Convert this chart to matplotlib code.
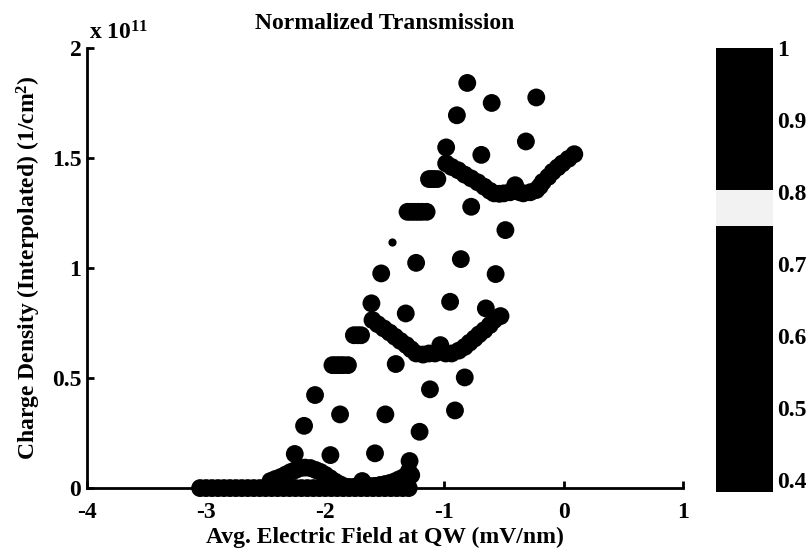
import numpy as np
import matplotlib
matplotlib.use("Agg")
import matplotlib.pyplot as plt
from matplotlib.colors import ListedColormap

plt.rcParams['font.family'] = ['Liberation Serif', 'DejaVu Serif']
plt.rcParams['font.weight'] = 'bold'
plt.rcParams['axes.unicode_minus'] = False
plt.rcParams['mathtext.fontset'] = 'custom'
plt.rcParams['mathtext.rm'] = 'Liberation Serif:bold'
plt.rcParams['mathtext.it'] = 'Liberation Serif:bold'
plt.rcParams['mathtext.bf'] = 'Liberation Serif:bold'

# charge density values are in units of 1e11 1/cm^2
# row of points sitting on zero
row_x = [-3.05, -3.00, -2.95, -2.90, -2.85, -2.80, -2.75, -2.70, -2.65, -2.60, -2.55,
         -2.50, -2.45, -2.40, -2.35, -2.30, -2.25, -2.20, -2.15, -2.10, -2.05,
         -2.00, -1.95, -1.90, -1.85, -1.80, -1.75, -1.70, -1.65, -1.60, -1.55,
         -1.50, -1.45, -1.40, -1.35, -1.30]
row_y = [0.0] * len(row_x)
row_t = [0.55] * len(row_x)

# lowest bump + first U
u1_x = [-2.46, -2.42, -2.375, -2.33, -2.29, -2.25, -2.21, -2.17, -2.125, -2.08,
        -2.04, -2.00, -1.96, -1.92, -1.88, -1.84, -1.80, -1.76, -1.72, -1.69,
        -1.65, -1.62, -1.58, -1.54, -1.50, -1.46, -1.42, -1.38, -1.34, -1.30]
u1_y = [0.032, 0.041, 0.050, 0.062, 0.073, 0.082, 0.091, 0.093, 0.091, 0.082,
        0.073, 0.060, 0.045, 0.030, 0.018, 0.008, 0.005, 0.005, 0.012, 0.032,
        0.012, 0.009, 0.010, 0.014, 0.018, 0.023, 0.030, 0.040, 0.050, 0.075]
u1_t = [0.6] * len(u1_x)

# middle U
u2_x = [-1.604, -1.56, -1.510, -1.46, -1.415, -1.37, -1.320, -1.28, -1.238, -1.18,
        -1.130, -1.08, -1.035, -0.99, -0.940, -0.88, -0.830, -0.79, -0.748, -0.71,
        -0.666, -0.62, -0.584, -0.530]
u2_y = [0.764, 0.745, 0.726, 0.707, 0.688, 0.669, 0.650, 0.631, 0.612, 0.607,
        0.612, 0.612, 0.650, 0.612, 0.612, 0.625, 0.642, 0.661, 0.680, 0.699,
        0.718, 0.741, 0.764, 0.782]
u2_t = [0.65] * len(u2_x)

# upper U
u3_x = [-0.986, -0.94, -0.885, -0.83, -0.776, -0.72, -0.666, -0.62, -0.584, -0.54,
        -0.502, -0.45, -0.407, -0.37, -0.339, -0.28, -0.230, -0.20, -0.175, -0.13,
        -0.093, -0.05, -0.011, 0.04, 0.089]
u3_y = [1.476, 1.460, 1.445, 1.425, 1.408, 1.390, 1.370, 1.352, 1.340, 1.338,
        1.340, 1.345, 1.377, 1.345, 1.340, 1.345, 1.355, 1.372, 1.392, 1.415,
        1.438, 1.458, 1.476, 1.497, 1.518]
u3_t = [0.7] * len(u3_x)

# horizontal clusters
bar_x = [-1.13, -1.11, -1.09, -1.06,
         -1.31, -1.28, -1.25, -1.22, -1.19, -1.15,
         -1.76, -1.73, -1.70,
         -1.94, -1.91, -1.88, -1.85, -1.81]
bar_y = [1.405, 1.405, 1.405, 1.405,
         1.256, 1.256, 1.256, 1.256, 1.256, 1.256,
         0.695, 0.695, 0.695,
         0.559, 0.559, 0.559, 0.559, 0.559]
bar_t = [0.9] * len(bar_x)

# isolated points
pts_x = [-0.809, -0.604, -0.230, -0.896, -0.317, -0.986, -0.691,
         -0.776, -0.489, -1.238, -0.863, -1.531, -0.571, -0.953, -1.613, -1.325, -0.653,
         -1.409, -1.122, -0.830, -2.086, -0.912, -1.876, -1.496, -2.178, -1.209,
         -2.256, -1.957, -1.583, -1.293, -1.279]
pts_y = [1.842, 1.751, 1.776, 1.695, 1.576, 1.549, 1.515,
         1.279, 1.173, 1.024, 1.041, 0.976, 0.973, 0.847, 0.840, 0.794, 0.817,
         0.564, 0.449, 0.503, 0.423, 0.353, 0.335, 0.335, 0.283, 0.256,
         0.155, 0.150, 0.158, 0.123, 0.059]
pts_t = [0.95] * len(pts_x)

small_x = [-1.441]
small_y = [1.117]
small_t = [0.5]

# colormap: black except a pale band near 0.78
cm_colors = ['black'] * 100
for i in range(60, 68):
    cm_colors[i] = '#f2f2f2'
cmap = ListedColormap(cm_colors)
vmin, vmax = 0.383, 1.0

fig = plt.figure(figsize=(8.12, 5.54), dpi=100)
ax = fig.add_axes([0.107, 0.119, 0.734, 0.794])

big_x = row_x + u1_x + u2_x + u3_x + bar_x + pts_x
big_y = row_y + u1_y + u2_y + u3_y + bar_y + pts_y
big_t = row_t + u1_t + u2_t + u3_t + bar_t + pts_t
sc = ax.scatter(big_x, big_y, c=big_t, cmap=cmap, vmin=vmin, vmax=vmax,
                s=165, linewidths=0, clip_on=False)
ax.scatter(small_x, small_y, c=small_t, cmap=cmap, vmin=vmin, vmax=vmax,
           s=35, linewidths=0, clip_on=False)

ax.set_xlim(-4, 1)
ax.set_ylim(0, 2)
ax.set_xticks([-4, -3, -2, -1, 0, 1])
ax.set_yticks([0, 0.5, 1, 1.5, 2])
ax.set_xticklabels(['-4', '-3', '-2', '-1', '0', '1'])
ax.set_yticklabels(['0', '0.5', '1', '1.5', '2'])
ax.spines['top'].set_visible(False)
ax.spines['right'].set_visible(False)
ax.spines['left'].set_linewidth(2)
ax.spines['bottom'].set_linewidth(2)
ax.tick_params(direction='in', length=5, width=2, labelsize=17)
ax.tick_params(axis='x', pad=10)
ax.tick_params(axis='y', pad=4)

ax.set_title('Normalized Transmission', fontsize=17, fontweight='bold', pad=14)
ax.set_xlabel('Avg. Electric Field at QW (mV/nm)', fontsize=17, fontweight='bold', labelpad=3)
ax.set_ylabel('Charge Density (Interpolated) (1/cm$^2$)', fontsize=17, fontweight='bold', labelpad=6)
fig.text(0.110, 0.928, 'x 10$^{11}$', fontsize=17, fontweight='bold')

cax = fig.add_axes([0.882, 0.112, 0.070, 0.801])
cb = fig.colorbar(sc, cax=cax)
cb.set_ticks([0.4, 0.5, 0.6, 0.7, 0.8, 0.9, 1.0])
cb.set_ticklabels(['0.4', '0.5', '0.6', '0.7', '0.8', '0.9', '1'])
cb.outline.set_visible(False)
cax.tick_params(length=0, labelsize=17, pad=3)

fig.savefig('out.png', dpi=100)
